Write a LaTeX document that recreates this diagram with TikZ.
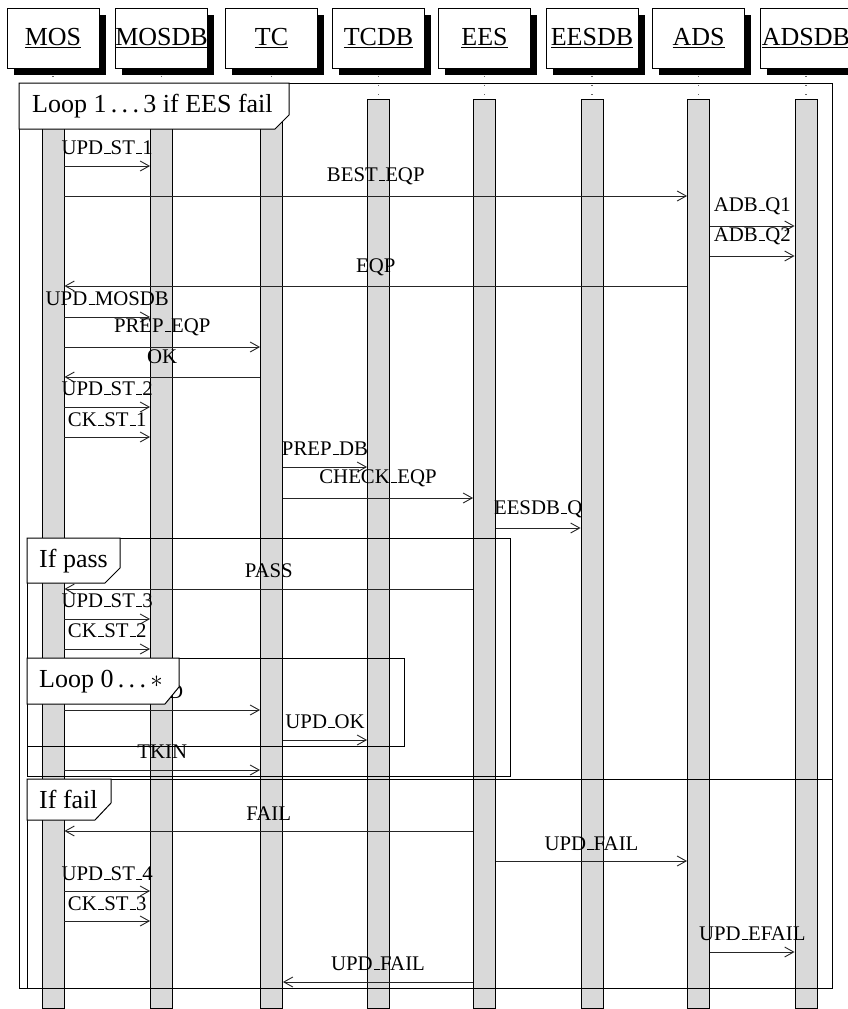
\documentclass[tikz,border=0pt]{standalone}
\usepackage{fontspec}
\setmainfont{Liberation Serif}
\usetikzlibrary{arrows.meta,shadows}
\newcommand\us{\leavevmode\kern.06em\vbox{\hrule width.3em height 0.9pt}}
\newcommand\msgr[5]{\draw[msgline] (#1.east |- 0,#3) -- node[msgtext, yshift=#5pt] (m-#3) {#4} (#2.west |- 0,#3);}
\newcommand\msgl[5]{\draw[msgline] (#1.west |- 0,#3) -- node[msgtext, yshift=#5pt] (m-#3) {#4} (#2.east |- 0,#3);}
\begin{document}
\begin{tikzpicture}[x=1pt,y=-1pt,
  hdr/.style={draw=black, fill=white, line width=0.8pt, minimum width=92pt, minimum height=60pt, inner sep=0pt,
    font=\fontsize{26}{30}\selectfont,
    drop shadow={shadow xshift=6.5pt, shadow yshift=-7pt, fill=black, opacity=1}},
  bar/.style={draw=black, fill=black!15, line width=0.9pt, minimum width=22pt, minimum height=909pt, inner sep=0pt},
  life/.style={draw=black!60, line width=1.2pt, dash pattern=on 1pt off 8pt},
  msgline/.style={line width=0.9pt, draw=black!85, -{Straight Barb[length=9pt,width=10pt]}},
  msgtext/.style={anchor=base, inner sep=0pt, font=\fontsize{20.8}{24}\selectfont},
  frame/.style={draw=black, line width=1pt},
  ftag/.style={draw=black, fill=white, line width=1pt},
  ftext/.style={anchor=base west, inner sep=0pt, font=\fontsize{26}{30}\selectfont}]
\fill[white] (0,0) rectangle (847,1009);
\useasboundingbox (0,0) rectangle (847,1009);
% lifelines
\foreach \n/\x/\t in {mos/53/MOS, mosdb/161.5/MOSDB, tc/271.5/TC, tcdb/378.5/TCDB,
                      ees/484.5/EES, eesdb/592/EESDB, ads/698.5/ADS, adsdb/806/ADSDB}{
  \node[hdr] (\n) at (\x,38) {\underline{\t}};
  \node[bar] (bar-\n) at (\x,553.5) {};
  \draw[life] ([yshift=-8pt]\n.south) -- (bar-\n.north);
}
% frames
\draw[frame] (19,83) rectangle (832,988);
\draw[frame] (27,538) rectangle (510,776);
\draw[frame] (27,658) rectangle (404,746);
\draw[frame] (27,779) rectangle (832,988);
% messages
\msgr{bar-mos}{bar-mosdb}{166}{UPD\us ST\us 1}{12}
\msgr{bar-mos}{bar-ads}{196}{BEST\us EQP}{15}
\msgr{bar-ads}{bar-adsdb}{226}{ADB\us Q1}{15}
\msgr{bar-ads}{bar-adsdb}{256}{ADB\us Q2}{15}
\msgl{bar-ads}{bar-mos}{286}{EQP}{14}
\msgr{bar-mos}{bar-mosdb}{317}{UPD\us MOSDB}{12}
\msgr{bar-mos}{bar-tc}{347}{PREP\us EQP}{15}
\msgl{bar-tc}{bar-mos}{377}{OK}{14}
\msgr{bar-mos}{bar-mosdb}{407}{UPD\us ST\us 2}{12}
\msgr{bar-mos}{bar-mosdb}{437}{CK\us ST\us 1}{11}
\msgr{bar-tc}{bar-tcdb}{467}{PREP\us DB}{12}
\msgr{bar-tc}{bar-ees}{498}{CHECK\us EQP}{15}
\msgr{bar-ees}{bar-eesdb}{528}{EESDB\us Q}{14}
\msgl{bar-ees}{bar-mos}{589}{PASS}{12}
\msgr{bar-mos}{bar-mosdb}{619}{UPD\us ST\us 3}{12}
\msgr{bar-mos}{bar-mosdb}{649}{CK\us ST\us 2}{12}
\msgr{bar-mos}{bar-tc}{710}{UPD}{12}
\msgr{bar-tc}{bar-tcdb}{740}{UPD\us OK}{12}
\msgr{bar-mos}{bar-tc}{770}{TKIN}{12}
\msgl{bar-ees}{bar-mos}{831}{FAIL}{11}
\msgr{bar-ees}{bar-ads}{861}{UPD\us FAIL}{11}
\msgr{bar-mos}{bar-mosdb}{891}{UPD\us ST\us 4}{11}
\msgr{bar-mos}{bar-mosdb}{921}{CK\us ST\us 3}{11}
\msgr{bar-ads}{bar-adsdb}{952}{UPD\us EFAIL}{12}
\msgl{bar-ees}{bar-tc}{982}{UPD\us FAIL}{12}
% frame tags
\draw[ftag] (19,83) -- (289,83) -- (289,115) -- (275,129) -- (19,129) -- cycle;
\node[ftext] (t-loop1) at (32,112) {Loop 1\,.\,.\,.\,3 if EES fail};
\draw[ftag] (27,538) -- (120,538) -- (120,568) -- (105,583) -- (27,583) -- cycle;
\node[ftext] (t-pass) at (39,567) {If pass};
\draw[ftag] (27,658) -- (179,658) -- (179,687) -- (165,704) -- (27,704) -- cycle;
\node[ftext] (t-loop0) at (39,687) {Loop 0\,.\,.\,.\,$\ast$};
\draw[ftag] (27,779) -- (111,779) -- (111,803) -- (95,820) -- (27,820) -- cycle;
\node[ftext] (t-fail) at (39,808) {If fail};
\end{tikzpicture}
\end{document}
